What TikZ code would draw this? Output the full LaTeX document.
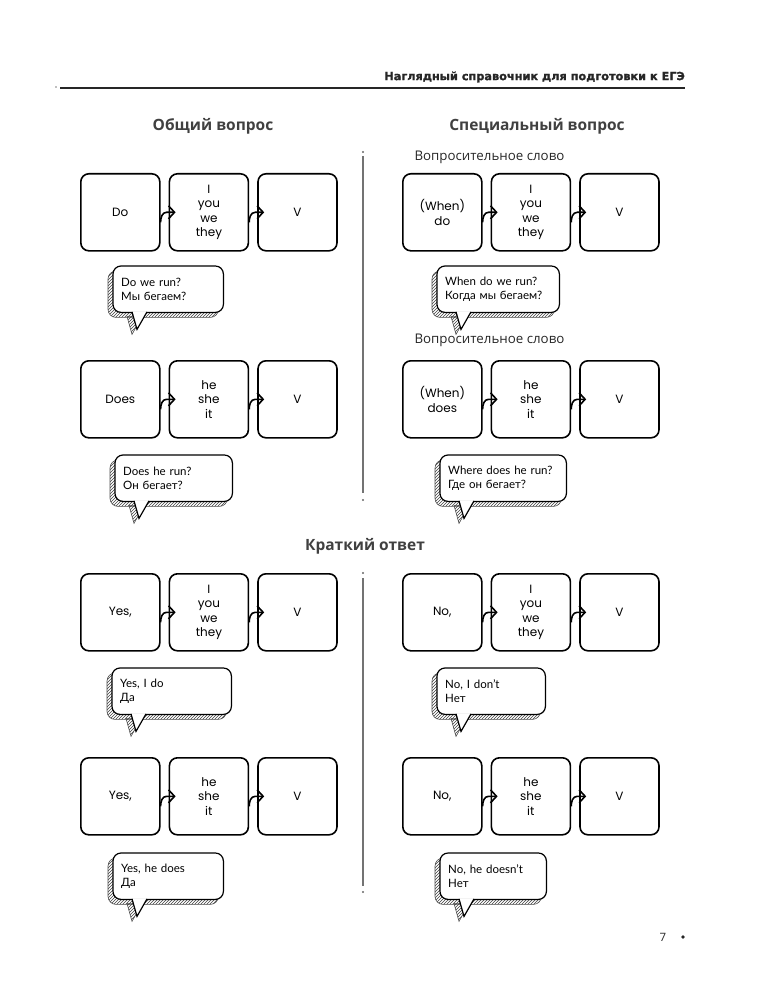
\documentclass[tikz,border=0pt]{standalone}
\usepackage{fontspec}
\setmainfont{Open Sans}
\newfontfamily\boxfont{Poppins}
\newfontfamily\bubblefont{Lato}
\newfontfamily\hdrfont[BoldFeatures={FakeBold=1.2}]{DejaVu Sans}
\usetikzlibrary{arrows.meta,positioning,patterns,backgrounds}

% облачко с тенью под узлом #1
\newcommand{\speechbubble}[1]{%
  \begin{scope}[on background layer]
    % тень
    \path[bubbleshadow, rounded corners=8pt] ([xshift=-5pt,yshift=-5pt]#1.south west) rectangle ([xshift=-5pt,yshift=-5pt]#1.north east);
    \path[bubbleshadow] ([xshift=14pt,yshift=-4pt]#1.south west) -- ([xshift=19pt,yshift=-22pt]#1.south west) -- ([xshift=29pt,yshift=-4pt]#1.south west) -- cycle;
    % само облачко
    \draw[bubblebody, rounded corners=8pt] (#1.south west) rectangle (#1.north east);
    \fill[white] ([xshift=19.5pt,yshift=1pt]#1.south west) -- ([xshift=24pt,yshift=-17pt]#1.south west) -- ([xshift=33.5pt,yshift=1pt]#1.south west) -- cycle;
    \draw[bubbleline] ([xshift=19pt,yshift=0.5pt]#1.south west) -- ([xshift=24pt,yshift=-17pt]#1.south west) -- ([xshift=34pt,yshift=0.5pt]#1.south west);
  \end{scope}}

\begin{document}
\begin{tikzpicture}[x=1pt,y=1pt]

  % --- стили ---
  \tikzset{
    % рамка со словом
    wordbox/.style={
      draw=black,
      line width=1.6pt,
      rounded corners=8pt,
      fill=white,
      minimum width=79pt,
      minimum height=77pt,
      align=center,
      font=\boxfont\fontsize{12}{14.5}\selectfont,
      inner sep=2pt,
      anchor=north west
    },
    % стрелка между рамками
    link/.style={
      line width=1.6pt,
      -{Straight Barb[length=6pt,width=13pt]}
    },
    % текст облачка
    bubble/.style={
      align=left,
      anchor=north west,
      minimum height=46pt,
      inner xsep=8pt,
      inner ysep=4pt,
      font=\bubblefont\fontsize{11.5}{14.5}\selectfont
    },
    bubbleshadow/.style={draw=black!70, line width=0.6pt, pattern=north east lines, pattern color=black!75},
    bubblebody/.style={draw=black, line width=1.2pt, fill=white},
    bubbleline/.style={draw=black, line width=1.2pt},
    heading/.style={font=\bfseries\fontsize{15.5}{18}\selectfont, text=black!75},
    subheading/.style={font=\fontsize{13.3}{15}\selectfont, text=black!85, anchor=west},
    divider/.style={draw=black!55, line width=2pt}
  }

  \useasboundingbox (0,0) rectangle (762,-1000);

  % --- шапка страницы ---
  \node[anchor=east, inner sep=0pt, font=\hdrfont\bfseries\fontsize{11.3}{13}\selectfont, text=black!85] (title) at (685,-77) {Наглядный справочник для подготовки к ЕГЭ};
  \coordinate (ruleL) at (60,-88);
  \coordinate (ruleR) at (685,-88);
  \draw[line width=1.4pt, black!85] (ruleL) -- (ruleR);
  \fill[black!50] (56,-87) circle (0.8pt);

  % --- заголовки ---
  \node[heading] (genhead) at (213,-126) {Общий вопрос};
  \node[heading] (spechead) at (537,-126) {Специальный вопрос};
  \node[subheading] (qword1) at (411,-157) {Вопросительное слово};
  \node[subheading] (qword2) at (411,-340) {Вопросительное слово};
  \node[heading] (shorthead) at (365,-546) {Краткий ответ};

  % --- разделители ---
  \draw[divider] (363,-156) -- (363,-493);
  \fill[black!60] (363,-152) circle (1.2pt) (363,-500) circle (1.2pt);
  \draw[divider] (363,-578) -- (363,-886);
  \fill[black!60] (363,-573) circle (1.2pt) (363,-892) circle (1.2pt);

  % --- общий вопрос ---
  \node[wordbox] (gen1a) at (80,-173) {Do};
  \node[wordbox, right=8pt of gen1a] (gen1b) {I\\you\\we\\they};
  \node[wordbox, right=8pt of gen1b] (gen1c) {V};
  \draw[link] ([yshift=-10pt]gen1a.east) to[out=90,in=180] ([xshift=6pt]gen1a.east) -- ([xshift=7pt]gen1b.west);
  \draw[link] ([yshift=-10pt]gen1b.east) to[out=90,in=180] ([xshift=6pt]gen1b.east) -- ([xshift=7pt]gen1c.west);

  \node[bubble, text width=94pt] (gen1q) at (113,-266) {Do we run?\\Мы бегаем?};
  \speechbubble{gen1q}

  \node[wordbox] (gen2a) at (80,-360) {Does};
  \node[wordbox, right=8pt of gen2a] (gen2b) {he\\she\\it};
  \node[wordbox, right=8pt of gen2b] (gen2c) {V};
  \draw[link] ([yshift=-10pt]gen2a.east) to[out=90,in=180] ([xshift=6pt]gen2a.east) -- ([xshift=7pt]gen2b.west);
  \draw[link] ([yshift=-10pt]gen2b.east) to[out=90,in=180] ([xshift=6pt]gen2b.east) -- ([xshift=7pt]gen2c.west);

  \node[bubble, text width=101pt] (gen2q) at (115,-455) {Does he run?\\Он бегает?};
  \speechbubble{gen2q}

  % --- специальный вопрос ---
  \node[wordbox] (spec1a) at (402,-173) {(When)\\do};
  \node[wordbox, right=8pt of spec1a] (spec1b) {I\\you\\we\\they};
  \node[wordbox, right=8pt of spec1b] (spec1c) {V};
  \draw[link] ([yshift=-10pt]spec1a.east) to[out=90,in=180] ([xshift=6pt]spec1a.east) -- ([xshift=7pt]spec1b.west);
  \draw[link] ([yshift=-10pt]spec1b.east) to[out=90,in=180] ([xshift=6pt]spec1b.east) -- ([xshift=7pt]spec1c.west);

  \node[bubble, text width=106pt] (spec1q) at (437,-266) {When do we run?\\Когда мы бегаем?};
  \speechbubble{spec1q}

  \node[wordbox] (spec2a) at (402,-360) {(When)\\does};
  \node[wordbox, right=8pt of spec2a] (spec2b) {he\\she\\it};
  \node[wordbox, right=8pt of spec2b] (spec2c) {V};
  \draw[link] ([yshift=-10pt]spec2a.east) to[out=90,in=180] ([xshift=6pt]spec2a.east) -- ([xshift=7pt]spec2b.west);
  \draw[link] ([yshift=-10pt]spec2b.east) to[out=90,in=180] ([xshift=6pt]spec2b.east) -- ([xshift=7pt]spec2c.west);

  \node[bubble, text width=110pt] (spec2q) at (440,-455) {Where does he run?\\Где он бегает?};
  \speechbubble{spec2q}

  % --- краткий ответ: да ---
  \node[wordbox] (yes1a) at (80,-573) {Yes,};
  \node[wordbox, right=8pt of yes1a] (yes1b) {I\\you\\we\\they};
  \node[wordbox, right=8pt of yes1b] (yes1c) {V};
  \draw[link] ([yshift=-10pt]yes1a.east) to[out=90,in=180] ([xshift=6pt]yes1a.east) -- ([xshift=7pt]yes1b.west);
  \draw[link] ([yshift=-10pt]yes1b.east) to[out=90,in=180] ([xshift=6pt]yes1b.east) -- ([xshift=7pt]yes1c.west);

  \node[bubble, text width=103pt] (yes1q) at (112,-668) {Yes, I do\\Да};
  \speechbubble{yes1q}

  \node[wordbox] (yes2a) at (80,-757) {Yes,};
  \node[wordbox, right=8pt of yes2a] (yes2b) {he\\she\\it};
  \node[wordbox, right=8pt of yes2b] (yes2c) {V};
  \draw[link] ([yshift=-10pt]yes2a.east) to[out=90,in=180] ([xshift=6pt]yes2a.east) -- ([xshift=7pt]yes2b.west);
  \draw[link] ([yshift=-10pt]yes2b.east) to[out=90,in=180] ([xshift=6pt]yes2b.east) -- ([xshift=7pt]yes2c.west);

  \node[bubble, text width=94pt] (yes2q) at (113,-853) {Yes, he does\\Да};
  \speechbubble{yes2q}

  % --- краткий ответ: нет ---
  \node[wordbox] (no1a) at (402,-573) {No,};
  \node[wordbox, right=8pt of no1a] (no1b) {I\\you\\we\\they};
  \node[wordbox, right=8pt of no1b] (no1c) {V};
  \draw[link] ([yshift=-10pt]no1a.east) to[out=90,in=180] ([xshift=6pt]no1a.east) -- ([xshift=7pt]no1b.west);
  \draw[link] ([yshift=-10pt]no1b.east) to[out=90,in=180] ([xshift=6pt]no1b.east) -- ([xshift=7pt]no1c.west);

  \node[bubble, text width=92pt] (no1q) at (437,-668) {No, I don’t\\Нет};
  \speechbubble{no1q}

  \node[wordbox] (no2a) at (402,-757) {No,};
  \node[wordbox, right=8pt of no2a] (no2b) {he\\she\\it};
  \node[wordbox, right=8pt of no2b] (no2c) {V};
  \draw[link] ([yshift=-10pt]no2a.east) to[out=90,in=180] ([xshift=6pt]no2a.east) -- ([xshift=7pt]no2b.west);
  \draw[link] ([yshift=-10pt]no2b.east) to[out=90,in=180] ([xshift=6pt]no2b.east) -- ([xshift=7pt]no2c.west);

  \node[bubble, text width=90pt] (no2q) at (440,-853) {No, he doesn’t\\Нет};
  \speechbubble{no2q}

  % --- номер страницы ---
  \node[font=\fontsize{11.5}{13}\selectfont, text=black!85] (pagenum) at (663,-937) {7};
  \fill[black!85] (683,-937) circle (1.8pt);

\end{tikzpicture}
\end{document}
